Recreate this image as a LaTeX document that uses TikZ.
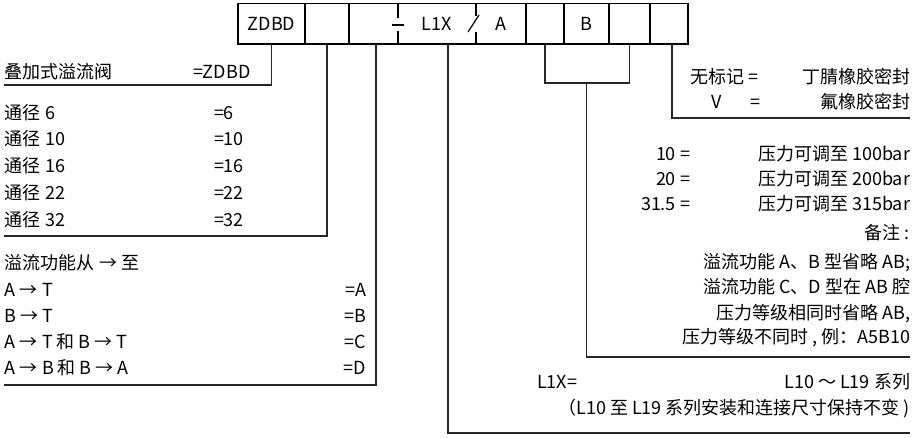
\documentclass[tikz,border=0pt]{standalone}
\usepackage{fontspec}
\setmainfont{Noto Sans CJK SC}
\usepackage{tikz}
\tikzset{
    every node/.style={inner sep=0pt, outer sep=0pt,
    	font=\fontsize{18}{21}\selectfont}
}
\tikzset{
    cell/.style={draw, minimum height=40.5pt}
}
\tikzset{
	lead/.style={draw=black!85, line width=1.3pt}
}

\begin{document}
\begin{tikzpicture}[x=1pt, y=1pt, line width=1.2pt]
  \useasboundingbox (0,0) rectangle (921,-437);
  % code box
  \node (zdbd) [cell, minimum width=67pt] at (271.5,-23.75) {ZDBD};
  \node (nom) [cell, minimum width=44pt] at (327,-23.75) {};
  \node (mid) [cell, minimum width=177pt] at (437.5,-23.75) {};
  \node (ser) at (437,-23.75) {L1X};
  \node (fun) at (501,-23.75) {A};
  \node (e1) [cell, minimum width=38pt] at (545,-23.75) {};
  \node (prs) [cell, minimum width=45pt] at (586.5,-23.75) {B};
  \node (e2) [cell, minimum width=41pt] at (629.5,-23.75) {};
  \node (seal) [cell, minimum width=38pt] at (669,-23.75) {};
  \draw (398,-3.5) -- (398,-18); \draw (398,-31) -- (398,-44);
  \draw (392,-25) -- (404,-25);
  \draw (476,-3.5) -- (476,-16); \draw (476,-32) -- (476,-44);
  \draw (468,-32) -- (479,-15);

  % leaders
  \coordinate (zdbdEnd) at (4,-85);
  \coordinate (nomEnd) at (4,-236);
  \coordinate (funTop) at (376,-44);
  \coordinate (funEnd) at (4,-385);
  \coordinate (serTop) at (448,-44);
  \coordinate (serEnd) at (910,-433);
  \coordinate (prsJoin) at (586.5,-83);
  \coordinate (prsEnd) at (910,-357);
  \coordinate (sealTop) at (672,-44);
  \coordinate (sealEnd) at (910,-118);
  \draw[lead] (zdbd.south) |- (zdbdEnd);
  \draw[lead] (nom.south) |- (nomEnd);
  \draw[lead] (funTop) |- (funEnd);
  \draw[lead] (serTop) |- (serEnd);
  \draw[lead] (e1.south) |- (prsJoin) -| (e2.south);
  \draw[lead] (prsJoin) |- (prsEnd);
  \draw[lead] (sealTop) |- (sealEnd);

  % left column
  \node (type) [anchor=base west] at (5,-78) {叠加式溢流阀};
  \node (typeval) [anchor=base west] at (193,-78) {=ZDBD};
  \foreach \d [count=\i] in {6,10,16,22,32} {
    \node (size\i) [anchor=base west] at (5,{-119-26.75*(\i-1)}) {通径 \d};
    \node (sizeval\i) [anchor=base west] at (214,{-119-26.75*(\i-1)}) {=\d};
  }
  \node (funhead) [anchor=base west] at (5,-269) {溢流功能从 → 至};
  \foreach \t/\v [count=\i] in {A → T/A, B → T/B, A → T 和 B → T/C,
      A → B 和 B → A/D} {
    \node (fun\i) [anchor=base west] at (5,{-296-26*(\i-1)}) {\t};
    \node (funval\i) [anchor=base east] at (366,{-296-26*(\i-1)}) {=\v};
  }

  % right column
  \node (nomark) [anchor=base west] at (690,-83) {无标记 =};
  \node (nbr) [anchor=base east] at (910,-83) {丁腈橡胶密封};
  \node (vkey) [anchor=base] at (717,-108) {V};
  \node (veq) [anchor=base] at (755,-108) {=};
  \node (fkm) [anchor=base east] at (910,-108) {氟橡胶密封};
  \foreach \p/\q [count=\i] in {10/100, 20/200, 31.5/315} {
    \node (pkey\i) [anchor=base east] at (690,{-160-25*(\i-1)}) {\p\ =};
    \node (pval\i) [anchor=base east] at (910,{-160-25*(\i-1)}) {压力可调至 \q bar};
  }
  \node (note) [anchor=base east] at (910,-239) {备注 :};
  \node (note1) [anchor=base east] at (910,-268) {溢流功能 A、B 型省略 AB;};
  \node (note2) [anchor=base east] at (910,-293) {溢流功能 C、D 型在 AB 腔};
  \node (note3) [anchor=base east] at (910,-319) {压力等级相同时省略 AB,};
  \node (note4) [anchor=base east] at (910,-343) {压力等级不同时 , 例：A5B10};
  \node (serkey) [anchor=base west] at (537,-388) {L1X=};
  \node (serval) [anchor=base east] at (910,-388) {L10 ～ L19 系列};
  \node (sernote) [anchor=base east] at (910,-414) {（L10 至 L19 系列安装和连接尺寸保持不变 )};
\end{tikzpicture}
\end{document}
